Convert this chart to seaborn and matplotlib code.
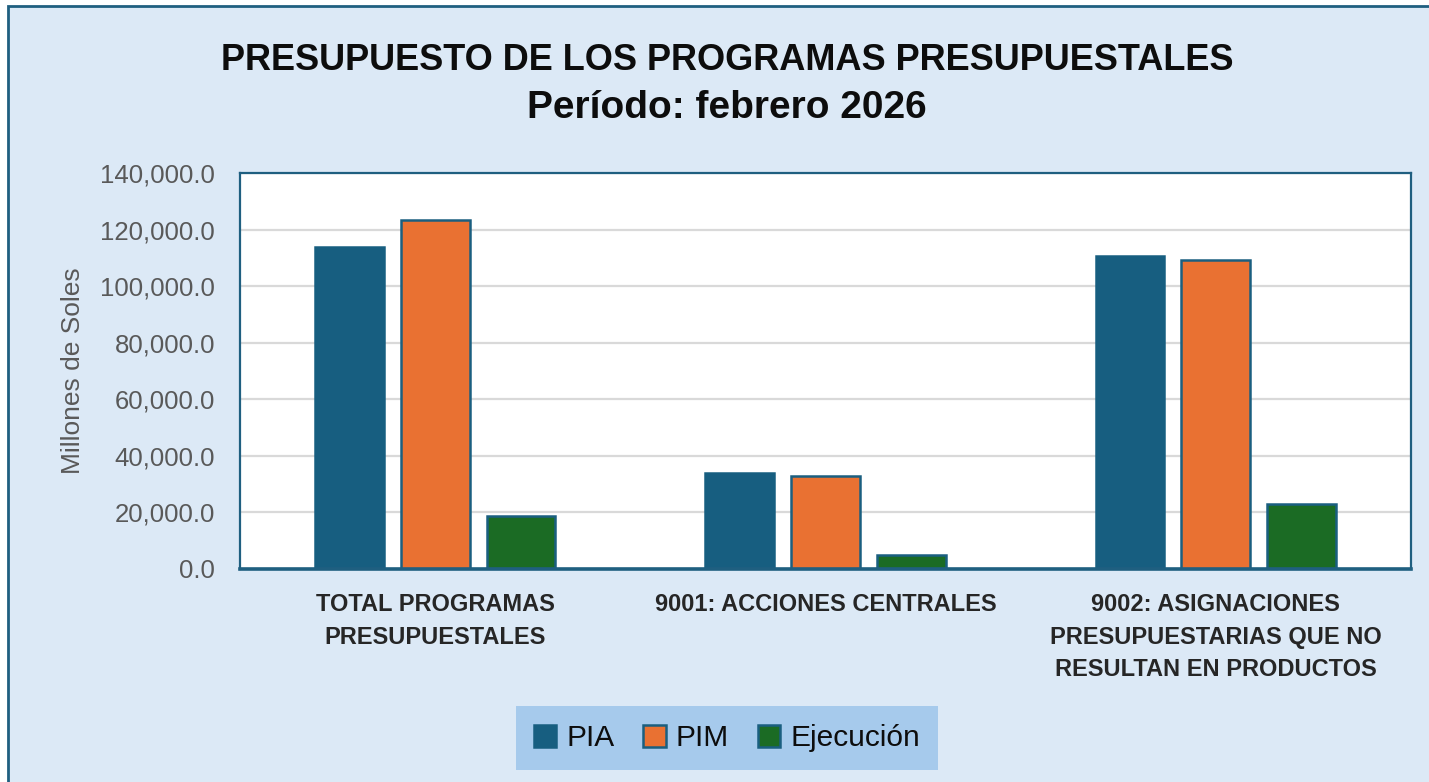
import matplotlib
matplotlib.use("Agg")
import matplotlib.pyplot as plt
from matplotlib.patches import Rectangle
import seaborn as sns
import pandas as pd

categories = [
    "TOTAL PROGRAMAS\nPRESUPUESTALES",
    "9001: ACCIONES CENTRALES",
    "9002: ASIGNACIONES\nPRESUPUESTARIAS QUE NO\nRESULTAN EN PRODUCTOS",
]
series = ["PIA", "PIM", "Ejecución"]
pia = [113800, 33900, 110600]
pim = [123400, 33000, 109200]
ejecucion = [18700, 4900, 23000]
y_ticks = [0, 20000, 40000, 60000, 80000, 100000, 120000, 140000]

colors = {"PIA": "#175e80", "PIM": "#e97132", "Ejecución": "#1b6b24"}
edges = {"PIA": "#175e80", "PIM": "#1a5f80", "Ejecución": "#1a5f80"}
border = "#1f5f80"

df = pd.DataFrame({
    "categoria": categories * 3,
    "serie": ["PIA"] * 3 + ["PIM"] * 3 + ["Ejecución"] * 3,
    "valor": pia + pim + ejecucion,
})

sns.set_theme(style="white")
plt.rcParams["font.family"] = ["Liberation Sans", "DejaVu Sans"]

fig = plt.figure(figsize=(14.29, 7.82), dpi=100, facecolor="white")
# light-blue chart area with a dark border, kept behind the axes
fig.patches.append(Rectangle((8 / 1429, -0.01), 1.0, 1.01 - 6 / 782, transform=fig.transFigure,
                             facecolor="#dce9f6", edgecolor=border, linewidth=2.0, zorder=-10))

ax = fig.add_axes([240 / 1429, 1 - 569 / 782, (1411 - 240) / 1429, (569 - 173) / 782])
ax.set_facecolor("white")

sns.barplot(data=df, x="categoria", y="valor", hue="serie", hue_order=series,
            palette=colors, width=0.66, gap=0.2, ax=ax, legend=False,
            saturation=1, zorder=3)

for cont, s in zip(ax.containers, series):
    for bar in cont:
        bar.set_edgecolor(edges[s])
        bar.set_linewidth(1.8)

ax.set_ylim(0, 140000)
ax.set_xlim(-0.5, 2.5)
ax.set_yticks(y_ticks)
ax.set_yticklabels([f"{v:,.1f}" for v in y_ticks], color="#595959", fontsize=18.5)
ax.tick_params(axis="y", length=0, pad=18)
ax.tick_params(axis="x", length=0, pad=17)
for lbl in ax.get_xticklabels():
    lbl.set_fontweight("bold")
    lbl.set_fontsize(17)
    lbl.set_color("#262626")
    lbl.set_linespacing(1.55)
ax.yaxis.grid(True, color="#d9d9d9", linewidth=1.6, zorder=0)
ax.set_axisbelow(True)
ax.set_xlabel("")
ax.set_ylabel("Millones de Soles", color="#595959", fontsize=19, labelpad=11)

for side in ["left", "top", "right"]:
    ax.spines[side].set_color(border)
    ax.spines[side].set_linewidth(1.6)
ax.spines["bottom"].set_color(border)
ax.spines["bottom"].set_linewidth(2.6)
ax.spines["bottom"].set_zorder(5)

fig.text(727 / 1429, 1 - 60 / 782, "PRESUPUESTO DE LOS PROGRAMAS PRESUPUESTALES",
         ha="center", va="center", fontsize=26, fontweight="bold", color="#0d0d0d")
fig.text(727 / 1429, 1 - 108 / 782, "Período: febrero 2026",
         ha="center", va="center", fontsize=28, fontweight="bold", color="#0d0d0d")

handles = [Rectangle((0, 0), 1, 1, facecolor=colors[s], edgecolor=edges[s], linewidth=1.8)
           for s in series]
leg = fig.legend(handles, series, loc="center", bbox_to_anchor=(727 / 1429, 1 - 738 / 782),
                 ncol=3, frameon=True, fontsize=21.5, handlelength=0.75, handleheight=0.75,
                 handletextpad=0.35, columnspacing=0.95, borderpad=0.6, borderaxespad=0,
                 fancybox=False)
leg.get_frame().set_facecolor("#a6caec")
leg.get_frame().set_edgecolor("none")
leg.get_frame().set_alpha(1)
for t in leg.get_texts():
    t.set_color("#0d0d0d")

fig.savefig("out.png", dpi=100, facecolor=fig.get_facecolor())
